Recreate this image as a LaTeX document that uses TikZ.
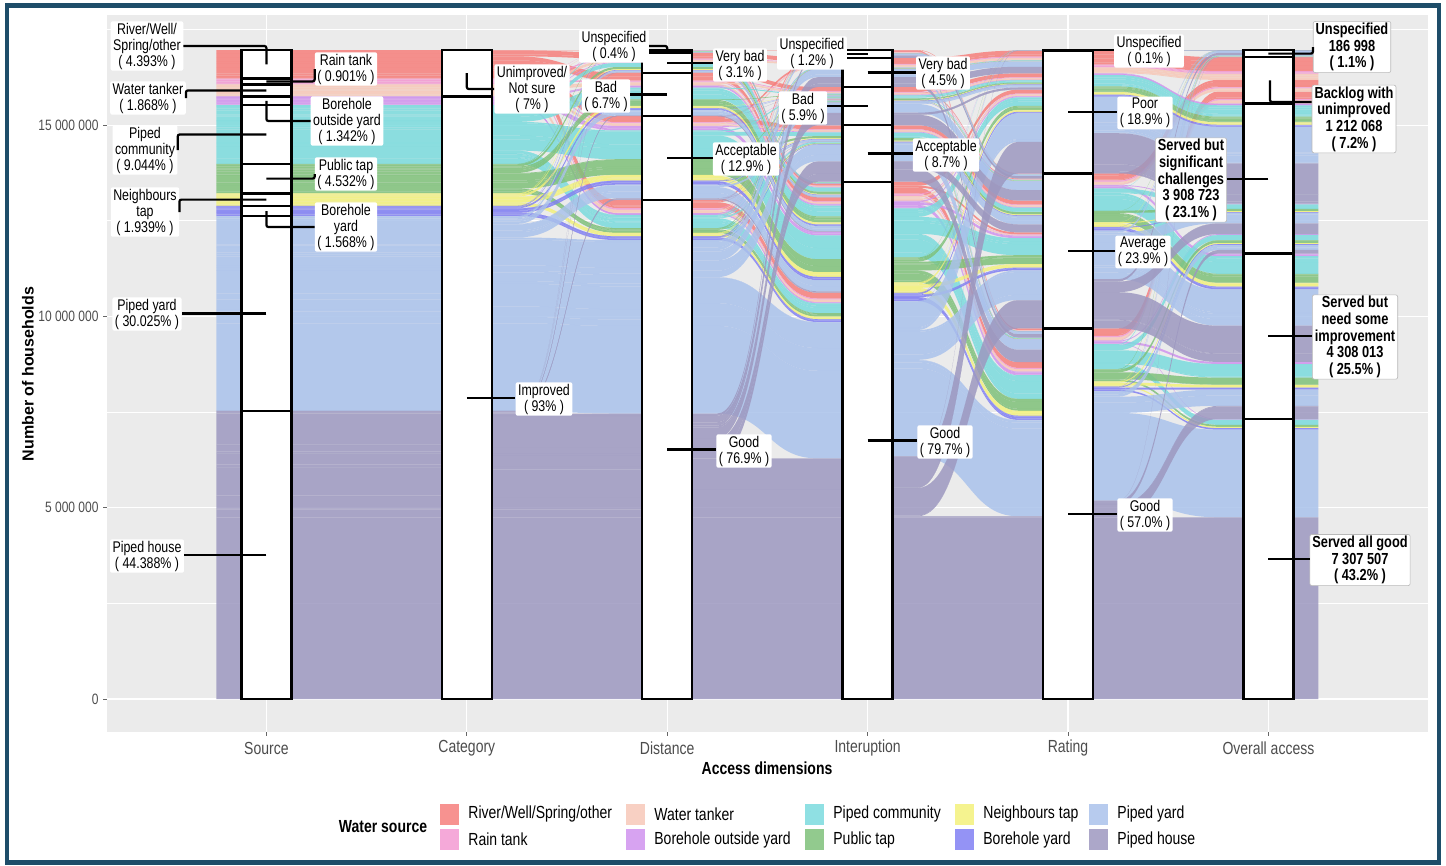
\documentclass[tikz,border=0pt]{standalone}
\usepackage{fontspec}
\setmainfont{Liberation Sans}[FakeStretch=0.8]
\newfontfamily\yfont{Liberation Sans}
\usetikzlibrary{positioning}

% water source colours
\definecolor{src1}{HTML}{F67F7C}
\definecolor{src2}{HTML}{F39AD2}
\definecolor{src3}{HTML}{F7C8B8}
\definecolor{src4}{HTML}{D093EE}
\definecolor{src5}{HTML}{7BDBDE}
\definecolor{src6}{HTML}{7FC17A}
\definecolor{src7}{HTML}{F3F17B}
\definecolor{src8}{HTML}{8180F3}
\definecolor{src9}{HTML}{AAC2EB}
\definecolor{src10}{HTML}{9D98C0}
\definecolor{panelgrey}{HTML}{EBEBEB}
\definecolor{bordercol}{HTML}{1E4D69}

\tikzset{
    % flows between two axes
    flow/.style={fill opacity=0.85},
    % stratum boxes
    stratum/.style={draw=black, line width=2.4pt, fill=white},
    % leader from a stratum to its label
    lead/.style={draw=black, line width=2.2pt, rounded corners=2pt},
    % stratum labels
    lab/.style={fill=white, rounded corners=2pt, inner xsep=2.5pt, inner ysep=1.5pt,
           align=center, font=\fontsize{15.5}{16}\selectfont},
    % labels of the overall access strata
    labo/.style={lab, draw=gray!55, line width=0.6pt,
           font=\fontsize{16}{16.6}\selectfont\bfseries},
    ticklab/.style={anchor=east, text=black!70, font=\fontsize{15}{17}\selectfont},
    axlab/.style={text=black!70, font=\fontsize{17.5}{19}\selectfont},
    legtext/.style={anchor=west, inner sep=0pt, font=\fontsize{17.5}{19}\selectfont},
    legkey/.style={minimum width=19pt, minimum height=21pt, inner sep=0pt, fill opacity=0.85},
    grid major/.style={white, line width=1.2pt},
    grid minor/.style={white, line width=0.6pt},
}

% share of each source in a profile (B backlog, F far, N near, G all good)
\newcommand\setshare[3]{\expandafter\def\csname sh-#1-#2\endcsname{#3}}
\setshare{B}{1}{4.393/7.162}
\setshare{B}{2}{0.901/7.162}
\setshare{B}{3}{1.868/7.162}
\setshare{F}{4}{1.1/18}
\setshare{F}{5}{7.0/18}
\setshare{F}{6}{3.8/18}
\setshare{F}{7}{1.4/18}
\setshare{F}{8}{1.0/18}
\setshare{F}{9}{3.3/18}
\setshare{F}{10}{0.4/18}
\setshare{N}{4}{0.142/31.698}
\setshare{N}{5}{1.244/31.698}
\setshare{N}{6}{0.432/31.698}
\setshare{N}{7}{0.339/31.698}
\setshare{N}{8}{0.328/31.698}
\setshare{N}{9}{13.225/31.698}
\setshare{N}{10}{15.988/31.698}
\setshare{G}{4}{0.1/43.14}
\setshare{G}{5}{0.8/43.14}
\setshare{G}{6}{0.3/43.14}
\setshare{G}{7}{0.2/43.14}
\setshare{G}{8}{0.24/43.14}
\setshare{G}{9}{13.5/43.14}
\setshare{G}{10}{28.0/43.14}

% paths: distance/interuption/rating/overall/percent/profile
\def\types{%
 2/2/2/2/1.0/B, 3/3/2/2/1.0/B, 3/5/2/2/1.0/B, 2/5/3/2/0.5/B, 4/4/3/2/1.0/B,
 5/5/4/2/1.462/B, 4/2/2/2/0.5/B, 1/1/3/2/0.1/B, 5/3/3/2/0.2/B, 5/1/4/2/0.4/B,
 1/5/4/1/0.3/F, 5/1/3/1/0.7/N, 5/5/1/1/0.1/N,
 5/5/2/3/9.5/N, 3/5/2/3/0.8/F, 2/5/2/3/1.6/F, 5/2/2/3/2.0/N, 5/3/2/3/0.6/N,
 3/3/2/3/0.4/F, 3/5/3/3/1.5/F, 5/3/3/3/3.2/N, 5/2/4/3/1.0/N, 3/5/4/3/2.0/F, 4/3/2/3/0.5/F,
 5/5/3/4/8.4/N, 4/5/4/4/5.0/F, 5/4/4/4/3.8/N, 4/4/3/4/1.5/F, 4/5/3/4/4.4/F, 5/4/3/4/2.4/N,
 5/5/4/5/43.14/G}

% build the alluvia, sorted by source
\def\alluvia{}
\foreach \s in {1,...,10}{
  \foreach \aD/\aI/\aR/\aO/\tot/\prof in \types {
    \ifcsname sh-\prof-\s\endcsname
      \edef\shv{\csname sh-\prof-\s\endcsname}
      \pgfmathsetmacro\w{\tot*\shv}
      \pgfmathtruncatemacro\cc{\s<4 ? 1 : 2}
      \ifx\alluvia\empty \xdef\alluvia{\s/\cc/\aD/\aI/\aR/\aO/\w}
      \else \xdef\alluvia{\alluvia,\s/\cc/\aD/\aI/\aR/\aO/\w}\fi
    \fi
  }
}

\def\pick#1{\ifcase#1 \or\aS\or\aC\or\aD\or\aI\or\aR\or\aO\fi}
\def\getv#1{\ifcsname#1\endcsname\csname#1\endcsname\else0\fi}
\newcommand\addval[2]{%
  \edef\oldv{\getv{#1}}%
  \pgfmathsetmacro\newv{\oldv+#2}%
  \expandafter\xdef\csname#1\endcsname{\newv}}

% one band: source, left axis, left top, right top, height (percent)
\newcommand\flowband[5]{%
  \pgfmathsetmacro\xa{66+200.4*#2}%
  \pgfmathsetmacro\xb{\xa+200.4}%
  \pgfmathsetmacro\xl{\xa-50*(#2==1)}%
  \pgfmathsetmacro\xr{\xb+50*(#2==5)}%
  \pgfmathsetmacro\xm{\xa+100.2}%
  \pgfmathsetmacro\ta{50+6.49*(#3)}%
  \pgfmathsetmacro\ba{\ta+6.49*#5}%
  \pgfmathsetmacro\tb{50+6.49*(#4)}%
  \pgfmathsetmacro\bb{\tb+6.49*#5}%
  \fill[flow, fill=src#1] (\xl,\ta) -- (\xa+50,\ta) .. controls (\xm,\ta) and (\xm,\tb) .. (\xb-50,\tb)
    -- (\xr,\tb) -- (\xr,\bb) -- (\xb-50,\bb) .. controls (\xm,\bb) and (\xm,\ba) .. (\xa+50,\ba)
    -- (\xl,\ba) -- cycle;
}

% all bands between axis #1 and axis #2 (#3, #4 strata)
\newcommand\drawgap[4]{%
  \foreach \aS/\aC/\aD/\aI/\aR/\aO/\aW in \alluvia {
    \edef\sL{\pick{#1}}\edef\sR{\pick{#2}}
    \addval{T#1-\sL-\aS-\sR}{\aW}
    \addval{P#1-\sL-\sR}{\aW}
  }
  % left side: stratum, source, next stratum
  \xdef\run{0}
  \foreach \sL in {1,...,#3}{\foreach \s in {1,...,10}{\foreach \sR in {1,...,#4}{
    \expandafter\xdef\csname BL#1-\sL-\s-\sR\endcsname{\run}
    \edef\tv{\getv{T#1-\sL-\s-\sR}}\addval{run}{\tv}}}}
  % right side: stratum, previous stratum, source
  \xdef\run{0}
  \foreach \sR in {1,...,#4}{\foreach \sL in {1,...,#3}{
    \expandafter\xdef\csname BR#1-\sL-\sR\endcsname{\run}
    \edef\tv{\getv{P#1-\sL-\sR}}\addval{run}{\tv}}}
  \foreach \aS/\aC/\aD/\aI/\aR/\aO/\aW in \alluvia {
    \edef\sL{\pick{#1}}\edef\sR{\pick{#2}}
    \edef\ya{\getv{BL#1-\sL-\aS-\sR}}\edef\qa{\getv{QL#1-\sL-\aS-\sR}}
    \edef\yb{\getv{BR#1-\sL-\sR}}\edef\qb{\getv{QR#1-\sL-\sR}}
    \addval{QL#1-\sL-\aS-\sR}{\aW}
    \addval{QR#1-\sL-\sR}{\aW}
    \flowband{\aS}{#1}{\ya+\qa}{\yb+\qb}{\aW}
  }
}

\begin{document}
\begin{tikzpicture}[x=1pt, y=-1pt]
\useasboundingbox (0,0) rectangle (1446,865);
\draw[bordercol, line width=4.5pt] (7,5.5) rectangle (1439,862.5);
% panel and grid
\fill[panelgrey] (107,15) rectangle (1428,732);
\foreach \y in {603.4,412.1,220.7,29.4} \draw[grid minor] (107,\y) -- (1428,\y);
\foreach \y in {699,507.7,316.4,125.1} \draw[grid major] (107,\y) -- (1428,\y);
\foreach \k in {1,...,6} \draw[grid major] ({66+200.4*\k},15) -- ({66+200.4*\k},732);

% flows
\drawgap{1}{2}{10}{2}
\drawgap{2}{3}{2}{5}
\drawgap{3}{4}{5}{5}
\drawgap{4}{5}{5}{4}
\drawgap{5}{6}{4}{5}

% strata
\foreach \bd [remember=\bd as \pb (initially 0)] in {4.393,5.294,7.162,8.504,17.548,22.08,24.019,25.587,55.612,100}
  \draw[stratum] (241.4,{50+6.49*\pb}) rectangle (291.4,{50+6.49*\bd});
\foreach \bd [remember=\bd as \pb (initially 0)] in {7.162,100}
  \draw[stratum] (441.8,{50+6.49*\pb}) rectangle (491.8,{50+6.49*\bd});
\foreach \bd [remember=\bd as \pb (initially 0)] in {0.4,3.5,10.2,23.1,100}
  \draw[stratum] (642.2,{50+6.49*\pb}) rectangle (692.2,{50+6.49*\bd});
\foreach \bd [remember=\bd as \pb (initially 0)] in {1.2,5.7,11.6,20.3,100}
  \draw[stratum] (842.6,{50+6.49*\pb}) rectangle (892.6,{50+6.49*\bd});
\foreach \bd [remember=\bd as \pb (initially 0)] in {0.1,19.0,42.9,100}
  \draw[stratum] (1043,{50+6.49*\pb}) rectangle (1093,{50+6.49*\bd});
\foreach \bd [remember=\bd as \pb (initially 0)] in {1.1,8.262,31.362,56.862,100}
  \draw[stratum] (1243.4,{50+6.49*\pb}) rectangle (1293.4,{50+6.49*\bd});

% source labels
\coordinate (pRiver) at (266.4,64.3);
\coordinate (pRain) at (266.4,81.4);
\coordinate (pTanker) at (266.4,90.4);
\coordinate (pBHout) at (266.4,100.8);
\coordinate (pPComm) at (266.4,134.5);
\coordinate (pPubTap) at (266.4,178.6);
\coordinate (pNeigh) at (266.4,199.6);
\coordinate (pBHyard) at (266.4,211);
\coordinate (pPYard) at (266.4,313.5);
\coordinate (pPHouse) at (266.4,555);
\node[lab] (lRiver) at (147,46) {River/Well/\\Spring/other\\( 4.393\% )};
\node[lab] (lTanker) at (148,98) {Water tanker\\( 1.868\% )};
\node[lab] (lPComm) at (145,150) {Piped\\community\\( 9.044\% )};
\node[lab] (lNeigh) at (145,212) {Neighbours\\tap\\( 1.939\% )};
\node[lab] (lPYard) at (147,314) {Piped yard\\( 30.025\% )};
\node[lab] (lPHouse) at (147,556) {Piped house\\( 44.388\% )};
\node[lab] (lRain) at (346,69) {Rain tank\\( 0.901\% )};
\node[lab] (lBHout) at (347,121) {Borehole\\outside yard\\( 1.342\% )};
\node[lab] (lPubTap) at (346,174) {Public tap\\( 4.532\% )};
\node[lab] (lBHyard) at (346,227) {Borehole\\yard\\( 1.568\% )};
\draw[lead] (pRiver) |- (lRiver.east);
\draw[lead] (pTanker) -| (lTanker.east);
\draw[lead] (pPComm) -| (lPComm.east);
\draw[lead] (pNeigh) -| (lNeigh.east);
\draw[lead] (pPYard) -- (pPYard -| lPYard.east);
\draw[lead] (pPHouse) -- (pPHouse -| lPHouse.east);
\draw[lead] (pRain) -| (lRain.west);
\draw[lead] (pBHout) |- (lBHout.west);
\draw[lead] (pPubTap) -| (lPubTap.west);
\draw[lead] (pBHyard) |- (lBHyard.west);

% category labels
\coordinate (pUnimp) at (466.8,73.2);
\coordinate (pImp) at (466.8,397.7);
\node[lab] (lUnimp) at (532,89) {Unimproved/\\Not sure\\( 7\% )};
\node[lab] (lImp) at (544,399) {Improved\\( 93\% )};
\draw[lead] (pUnimp) |- (lUnimp.west);
\draw[lead] (pImp) -- (pImp -| lImp.west);

% distance labels
\coordinate (pdU) at (667.2,51.3);
\coordinate (pdVB) at (667.2,62.7);
\coordinate (pdB) at (667.2,94.5);
\coordinate (pdA) at (667.2,158.1);
\coordinate (pdG) at (667.2,449.5);
\node[lab] (ldU) at (614,46) {Unspecified\\( 0.4\% )};
\node[lab] (ldVB) at (740,65) {Very bad\\( 3.1\% )};
\node[lab] (ldB) at (606,96) {Bad\\( 6.7\% )};
\node[lab] (ldA) at (746,159) {Acceptable\\( 12.9\% )};
\node[lab] (ldG) at (744,451) {Good\\( 76.9\% )};
\draw[lead] (pdU) |- (ldU.east);
\draw[lead] (pdVB) -- (pdVB -| ldVB.west);
\draw[lead] (pdB) -- (pdB -| ldB.east);
\draw[lead] (pdA) -- (pdA -| ldA.west);
\draw[lead] (pdG) -- (pdG -| ldG.west);

% interuption labels
\coordinate (piU) at (867.6,53.9);
\coordinate (piVB) at (867.6,72.4);
\coordinate (piB) at (867.6,106.1);
\coordinate (piA) at (867.6,153.5);
\coordinate (piG) at (867.6,440.4);
\node[lab] (liU) at (812,53) {Unspecified\\( 1.2\% )};
\node[lab] (liVB) at (943,73) {Very bad\\( 4.5\% )};
\node[lab] (liB) at (803,108) {Bad\\( 5.9\% )};
\node[lab] (liA) at (946,155) {Acceptable\\( 8.7\% )};
\node[lab] (liG) at (945,442) {Good\\( 79.7\% )};
\draw[lead] (piU) -- (piU -| liU.east);
\draw[lead] (piVB) -- (piVB -| liVB.west);
\draw[lead] (piB) -- (piB -| liB.east);
\draw[lead] (piA) -- (piA -| liA.west);
\draw[lead] (piG) -- (piG -| liG.west);

% rating labels
\coordinate (prU) at (1068,50.3);
\coordinate (prP) at (1068,112);
\coordinate (prAv) at (1068,250.9);
\coordinate (prG) at (1068,513.7);
\node[lab] (lrU) at (1149,51) {Unspecified\\( 0.1\% )};
\node[lab] (lrP) at (1145,113) {Poor\\( 18.9\% )};
\node[lab] (lrAv) at (1143,252) {Average\\( 23.9\% )};
\node[lab] (lrG) at (1145,515) {Good\\( 57.0\% )};
\draw[lead] (prU) -- (prU -| lrU.west);
\draw[lead] (prP) -- (prP -| lrP.west);
\draw[lead] (prAv) -- (prAv -| lrAv.west);
\draw[lead] (prG) -- (prG -| lrG.west);

% overall access labels
\coordinate (poU) at (1268.4,53.6);
\coordinate (poBk) at (1270,80.4);
\coordinate (poSig) at (1268.4,178.6);
\coordinate (poNeed) at (1268.4,336.3);
\coordinate (poAG) at (1268.4,559);
\node[labo] (loU) at (1352,47) {Unspecified\\186 998\\( 1.1\% )};
\node[labo] (loBk) at (1354,119) {Backlog with\\unimproved\\1 212 068\\( 7.2\% )};
\node[labo] (loSig) at (1191,180) {Served but\\significant\\challenges\\3 908 723\\( 23.1\% )};
\node[labo] (loNeed) at (1355,337) {Served but\\need some\\improvement\\4 308 013\\( 25.5\% )};
\node[labo] (loAG) at (1360,560) {Served all good\\7 307 507\\( 43.2\% )};
\draw[lead] (poU) -| (loU.west);
\draw[lead] (poBk) |- ([yshift=17pt]loBk.west);
\draw[lead] (poSig) -- (poSig -| loSig.east);
\draw[lead] (poNeed) -- (poNeed -| loNeed.west);
\draw[lead] (poAG) -- (poAG -| loAG.west);

% axes
\foreach \y/\t in {699/0,507.7/5 000 000,316.4/10 000 000,125.1/15 000 000}{
  \draw[black!60, line width=1pt] (103,\y) -- (107,\y);
  \node[ticklab] at (102,\y) {\t};
}
\foreach \k in {1,...,6} \draw[black!60, line width=1pt] ({66+200.4*\k},732) -- ({66+200.4*\k},736);
\node[axlab] (xSource) at (266.4,748) {Source};
\node[axlab] (xCategory) at (466.8,748) {Category};
\node[axlab] (xDistance) at (667.2,748) {Distance};
\node[axlab] (xInteruption) at (867.6,748) {Interuption};
\node[axlab] (xRating) at (1068,748) {Rating};
\node[axlab] (xOverall) at (1268.4,748) {Overall access};
\node[font=\fontsize{17.5}{19}\selectfont\bfseries] (xtitle) at (767,768) {Access dimensions};
\node[rotate=90, font={\yfont\bfseries\fontsize{16}{18}\selectfont}] (ytitle) at (28,374) {Number of households};

% legend
\node[font=\fontsize{17.5}{19}\selectfont\bfseries] (legtitle) at (383,827) {Water source};
\node[legkey, fill=src1] (k1) at (449.5,814) {};
\node[legkey, fill=src2] (k2) at (449.5,839.5) {};
\node[legkey, fill=src3] (k3) at (635.5,814) {};
\node[legkey, fill=src4] (k4) at (635.5,839.5) {};
\node[legkey, fill=src5] (k5) at (814.5,814) {};
\node[legkey, fill=src6] (k6) at (814.5,839.5) {};
\node[legkey, fill=src7] (k7) at (964.5,814) {};
\node[legkey, fill=src8] (k8) at (964.5,839.5) {};
\node[legkey, fill=src9] (k9) at (1098.5,814) {};
\node[legkey, fill=src10] (k10) at (1098.5,839.5) {};
\node[legtext, right=9pt of k1] {River/Well/Spring/other};
\node[legtext, right=9pt of k2] {Rain tank};
\node[legtext, right=9pt of k3] {Water tanker};
\node[legtext, right=9pt of k4] {Borehole outside yard};
\node[legtext, right=9pt of k5] {Piped community};
\node[legtext, right=9pt of k6] {Public tap};
\node[legtext, right=9pt of k7] {Neighbours tap};
\node[legtext, right=9pt of k8] {Borehole yard};
\node[legtext, right=9pt of k9] {Piped yard};
\node[legtext, right=9pt of k10] {Piped house};
\end{tikzpicture}
\end{document}
